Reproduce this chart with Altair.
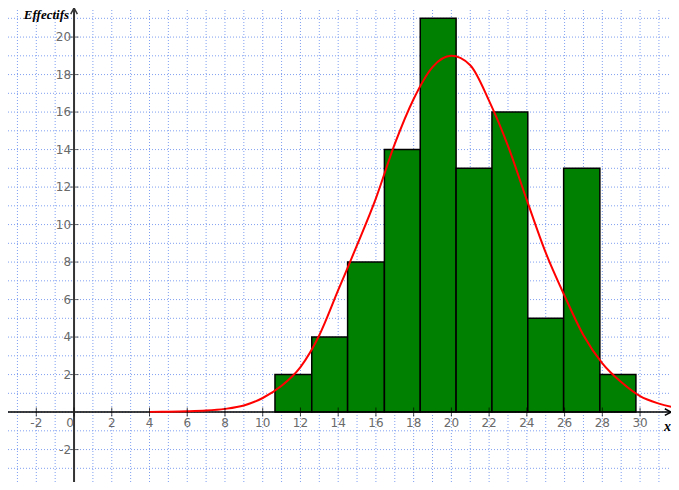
import altair as alt
import pandas as pd

# histogram bins (edges) and counts
bin_edges = [10.65, 12.6, 14.5, 16.45, 18.35, 20.25, 22.15, 24.05, 25.95, 27.87, 29.78]
counts = [2, 4, 8, 14, 21, 13, 16, 5, 13, 2]

# red fitted curve
curve_x = [4, 5, 6, 7, 8, 9, 10, 11, 12, 13, 14, 15, 16, 17, 18, 19, 20, 21, 22,
           23, 24, 25, 26, 27, 28, 29, 30, 31, 32]
curve_y = [0.01, 0.02, 0.04, 0.08, 0.17, 0.35, 0.75, 1.4, 2.4, 4.1, 6.5, 8.9, 11.4,
           14.3, 16.7, 18.4, 19.0, 18.5, 16.6, 14.2, 11.3, 8.5, 6.2, 4.1, 2.6, 1.6,
           0.85, 0.45, 0.2]

# axes
x_domain = [-3.5, 31.64]
y_domain = [-3.73, 21.55]
x_grid = list(range(-3, 32))
y_grid = list(range(-3, 22))
x_labels = [-2, 0, 2, 4, 6, 8, 10, 12, 14, 16, 18, 20, 22, 24, 26, 28, 30]
y_labels = [-2, 2, 4, 6, 8, 10, 12, 14, 16, 18, 20]

bars_df = pd.DataFrame({"x0": bin_edges[:-1], "x1": bin_edges[1:], "n": counts})
curve_df = pd.DataFrame({"x": curve_x, "y": curve_y})
xg_df = pd.DataFrame({"v": x_grid})
yg_df = pd.DataFrame({"v": y_grid})
xt_df = pd.DataFrame({"v": x_labels, "t": [str(v) for v in x_labels]})
yt_df = pd.DataFrame({"v": y_labels, "t": [str(v) for v in y_labels]})
one = pd.DataFrame({"a": [0]})

xs = alt.Scale(domain=x_domain, nice=False, zero=False)
ys = alt.Scale(domain=y_domain, nice=False, zero=False)

GRID = "#7f9ff0"
LABEL = "#6a6a6a"


def X(f, **kw):
    return alt.X(f, scale=xs, axis=None, **kw)


def Y(f, **kw):
    return alt.Y(f, scale=ys, axis=None, **kw)


def XD(v):
    return alt.XDatum(v, scale=xs, axis=None)


def YD(v):
    return alt.YDatum(v, scale=ys, axis=None)


vgrid = alt.Chart(xg_df).mark_rule(
    color=GRID, strokeDash=[1, 2], strokeWidth=1
).encode(x=X("v:Q"), y=YD(y_domain[0]), y2=alt.Y2Datum(y_domain[1]))

hgrid = alt.Chart(yg_df).mark_rule(
    color=GRID, strokeDash=[1, 2], strokeWidth=1
).encode(y=Y("v:Q"), x=XD(x_domain[0]), x2=alt.X2Datum(x_domain[1]))

bars = alt.Chart(bars_df).mark_rect(
    fill="#008000", stroke="black", strokeWidth=1.5
).encode(
    x=X("x0:Q"),
    x2="x1:Q",
    y=Y("n:Q"),
    y2=alt.Y2Datum(0),
)

x_axis_line = alt.Chart(one).mark_rule(color="black", strokeWidth=1.5).encode(
    x=XD(x_domain[0]), x2=alt.X2Datum(x_domain[1]), y=YD(0))
y_axis_line = alt.Chart(one).mark_rule(color="#333333", strokeWidth=2).encode(
    y=YD(y_domain[0]), y2=alt.Y2Datum(y_domain[1]), x=XD(0))

curve = alt.Chart(curve_df).mark_line(
    color="#ff0000", strokeWidth=2, interpolate="monotone", clip=True
).encode(x=X("x:Q"), y=Y("y:Q"))

xticks = alt.Chart(xt_df).mark_tick(
    orient="vertical", size=9, thickness=1, color="black"
).encode(x=X("v:Q"), y=YD(0))
yticks = alt.Chart(yt_df).mark_tick(
    orient="horizontal", size=9, thickness=1, color="#333333"
).encode(x=XD(0), y=Y("v:Q"))

xtext = alt.Chart(xt_df).transform_filter("datum.v != 0").mark_text(
    font="DejaVu Sans", fontSize=12, color=LABEL, baseline="top", dy=6
).encode(x=X("v:Q"), y=YD(0), text="t:N")
xtext0 = alt.Chart(xt_df).transform_filter("datum.v == 0").mark_text(
    font="DejaVu Sans", fontSize=12, color=LABEL, baseline="top", dy=6, dx=-4
).encode(x=X("v:Q"), y=YD(0), text="t:N")
ytext = alt.Chart(yt_df).mark_text(
    font="DejaVu Sans", fontSize=12, color=LABEL, align="right",
    baseline="middle", dx=-3
).encode(x=XD(0), y=Y("v:Q"), text="t:N")

arrow_up = alt.Chart(one).mark_point(
    shape="M-0.7,1.3L0,0L0.7,1.3", filled=False, stroke="#333333",
    strokeWidth=1.5, size=90, opacity=1
).encode(x=XD(0), y=YD(y_domain[1]))
arrow_right = alt.Chart(one).mark_point(
    shape="M-1.3,-0.7L0,0L-1.3,0.7", filled=False, stroke="black",
    strokeWidth=1.5, size=90, opacity=1
).encode(x=XD(x_domain[1]), y=YD(0))

ylab = alt.Chart(one).mark_text(
    text="Effectifs", font="Liberation Serif", fontStyle="italic",
    fontWeight="bold", fontSize=13, align="right", baseline="top",
    dx=-5, dy=1, color="black"
).encode(x=XD(0), y=YD(y_domain[1]))
xlab = alt.Chart(one).mark_text(
    text="x", font="Liberation Serif", fontStyle="italic",
    fontWeight="bold", fontSize=14, align="center", baseline="middle",
    color="black"
).encode(x=XD(31.45), y=YD(-0.8))

chart = alt.layer(
    vgrid, hgrid, bars, x_axis_line, y_axis_line, curve, xticks, yticks,
    xtext, xtext0, ytext, arrow_up, arrow_right, ylab, xlab
).properties(
    width=663, height=474, padding=0, autosize="none", background="white"
).configure_view(stroke=None)

chart.save("out.html", embed_options={"renderer": "svg", "actions": False})
